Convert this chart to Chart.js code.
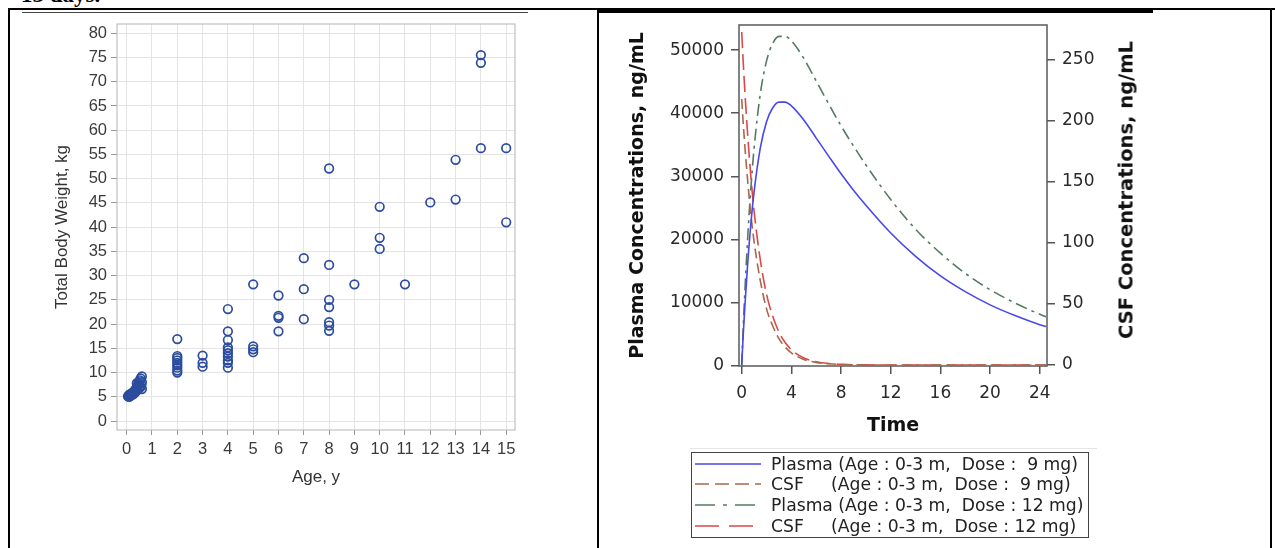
<!DOCTYPE html>
<html><head><meta charset="utf-8">
<script src="https://cdn.jsdelivr.net/npm/chart.js@4.4.0/dist/chart.umd.min.js"></script>
<style>
html,body{margin:0;padding:0;background:#fff;width:1275px;height:548px;overflow:hidden;position:relative;}
#cap{position:absolute;left:21px;top:-18px;line-height:24px;font:bold 23px "Liberation Serif","Times New Roman",serif;color:#000;white-space:nowrap;}
.bl{position:absolute;background:#000;}
#leftc{position:absolute;left:20px;top:4px;}
#rightc{position:absolute;left:600px;top:0px;}
#csfTitle{position:absolute;left:1126px;top:190px;transform:translate(-50%,-50%) rotate(-90deg);font:bold 19.5px "DejaVu Sans",Verdana,sans-serif;white-space:nowrap;color:#111;}
#legend{position:absolute;left:691px;top:452px;width:398px;height:86px;border:1px solid #444;box-sizing:border-box;font:17.2px "DejaVu Sans",Verdana,sans-serif;color:#222;}
.row{position:absolute;left:0;height:20px;width:396px;}
.row svg{position:absolute;left:3px;top:0;}
.row span{position:absolute;left:79px;top:0;line-height:20px;white-space:pre;}
</style></head>
<body>
<div id="cap">13 days.</div>
<div class="bl" style="left:8px;top:8px;width:1267px;height:2px;"></div>
<div class="bl" style="left:599px;top:10px;width:554px;height:3px;"></div>
<div class="bl" style="left:22px;top:12px;width:506px;height:1px;background:#444;"></div>
<div class="bl" style="left:8px;top:8px;width:2px;height:540px;"></div>
<div class="bl" style="left:597px;top:8px;width:2px;height:540px;"></div>
<div class="bl" style="left:1270px;top:8px;width:2px;height:540px;"></div>
<div class="bl" style="left:690px;top:448px;width:407px;height:1px;background:#e4e4e4;"></div>

<canvas id="leftc" width="570" height="530"></canvas>
<canvas id="rightc" width="670" height="460"></canvas>
<div id="csfTitle">CSF Concentrations, ng/mL</div>
<div id="legend"></div>

<script>
// ---------- Left panel: age vs weight ----------
const ageYears = [
  0.05,0.08,0.10,0.12,0.15,0.17,0.20,0.22,0.25,0.27,0.30,0.32,0.35,0.37,0.40,0.40,0.42,0.45,0.47,0.50,0.50,0.52,0.55,0.55,0.58,0.60,0.60,0.60,
  2,2,2,2,2,2,2,2,2,
  3,3,3,
  4,4,4,4,4,4,4,4,4,4,
  5,5,5,5,
  6,6,6,6,
  7,7,7,
  8,8,8,8,8,8,8,
  9,
  10,10,10,
  11,
  12,
  13,13,
  14,14,14,
  15,15
];
const weightKg = [
  5.1,5.3,5.0,5.5,5.2,5.6,5.4,5.8,5.5,6.0,5.7,6.3,6.0,6.6,7.0,7.8,6.4,7.4,8.0,6.8,7.6,8.4,7.0,8.8,7.4,9.2,8.0,6.6,
  16.9,13.4,13.0,12.5,12.0,11.5,11.0,10.4,10.0,
  13.5,12.0,11.2,
  23.1,18.5,16.7,15.2,14.6,14.0,13.3,12.5,12.0,11.0,
  28.2,15.4,14.8,14.2,
  25.9,21.7,21.3,18.5,
  33.6,27.2,21.0,
  52.1,32.2,25.0,23.5,20.4,19.7,18.6,
  28.2,
  44.2,37.8,35.5,
  28.2,
  45.1,
  53.9,45.7,
  75.5,73.9,56.3,
  56.3,41.0
];
const ageTicks = [0,1,2,3,4,5,6,7,8,9,10,11,12,13,14,15];
const weightTicks = [0,5,10,15,20,25,30,35,40,45,50,55,60,65,70,75,80];

// ---------- Right panel: concentration-time ----------
const timeH   = [0,0.125,0.25,0.5,0.75,1,1.5,2,2.5,3,3.5,4,5,6,7,8,9,10,12,14,16,18,20,22,24,24.5];
const plasma9 = [0,4900,9170,16650,22700,27570,34500,38650,40870,41770,41770,41170,38930,36060,33200,30400,27800,25400,21000,17300,14200,11700,9600,7900,6450,6150];
const plasma12= [0,6100,11500,20800,28400,34500,43100,48300,51100,52200,52200,51500,48700,45100,41500,38000,34800,31800,26300,21600,17800,14600,12000,9900,8100,7700];
const csf9    = [218,198,180,149,122,101,69,46,32,21.6,14.7,10,4.6,2.2,1.0,0.5,0.2,0.1,0,0,0,0,0,0,0,0];
const csf12   = [273,248,225,186,153,126,86,58,40,27,18.4,12.5,5.8,2.7,1.2,0.6,0.25,0.1,0,0,0,0,0,0,0,0];
const timeTicks   = [0,4,8,12,16,20,24];
const plasmaTicks = [0,10000,20000,30000,40000,50000];
const csfTicks    = [0,50,100,150,200,250];
const seriesLabels = [
  'Plasma (Age : 0-3 m,  Dose :  9 mg)',
  'CSF     (Age : 0-3 m,  Dose :  9 mg)',
  'Plasma (Age : 0-3 m,  Dose : 12 mg)',
  'CSF     (Age : 0-3 m,  Dose : 12 mg)'
];
const seriesColors = ['#4848ec','#a8694b','#557a62','#dc4848'];
const plotDash   = [[],[10,5],[12,5,3,5],[16,6]];
const legendDash = ['', '14 6', '20 8 4 8', '24 10'];

const framePlugin = {
  id:'frame',
  beforeDatasetsDraw(chart, args, opts){
    const {ctx, chartArea:a} = chart;
    ctx.save(); ctx.strokeStyle = opts.color; ctx.lineWidth = opts.width;
    ctx.strokeRect(a.left, a.top, a.right-a.left, a.bottom-a.top);
    ctx.restore();
  }
};
const setTicks = arr => s => { s.ticks = arr.map(v => ({value:v})); };

const sansL = 'Liberation Sans, Arial, sans-serif';
new Chart(document.getElementById('leftc'), {
  type:'scatter',
  data:{datasets:[{
    data: ageYears.map((a,i)=>({x:a, y:weightKg[i]})),
    pointStyle:'circle', pointRadius:4.3, pointBorderWidth:1.7,
    borderColor:'#2c4d9e', backgroundColor:'rgba(0,0,0,0)', pointHoverRadius:4.3
  }]},
  plugins:[framePlugin],
  options:{
    responsive:false, animation:false, devicePixelRatio:1,
    layout:{padding:{left:0, top:20, right:75, bottom:24}},
    plugins:{legend:{display:false}, tooltip:{enabled:false}, frame:{color:'#b4b4b4', width:1}},
    scales:{
      x:{type:'linear', min:-0.383, max:15.348,
        afterBuildTicks:setTicks(ageTicks), afterFit:s=>{s.height=80;},
        grid:{color:'#e4e4e4', tickColor:'#999', tickLength:5},
        border:{display:false},
        ticks:{padding:5, color:'#3a3a3a', font:{family:sansL, size:16.5}, maxRotation:0, autoSkip:false, callback:v=>String(v)},
        title:{display:true, text:'Age, y', color:'#333', font:{family:sansL, size:17}, padding:{top:0,bottom:22.5}}
      },
      y:{type:'linear', min:-1.857, max:81.92,
        afterBuildTicks:setTicks(weightTicks), afterFit:s=>{s.width=97;},
        grid:{color:'#e4e4e4', tickColor:'#999', tickLength:6},
        border:{display:false},
        ticks:{padding:4, color:'#3a3a3a', font:{family:sansL, size:16.5}, autoSkip:false, callback:v=>String(v)},
        title:{display:true, text:'Total Body Weight, kg', color:'#333', font:{family:sansL, size:17}, padding:{top:31.8,bottom:0}}
      }
    }
  }
});

const sansR = 'DejaVu Sans, Verdana, sans-serif';
const plasmaSets = [plasma9, csf9, plasma12, csf12];
new Chart(document.getElementById('rightc'), {
  type:'line',
  data:{datasets: plasmaSets.map((arr,i)=>({
    label: seriesLabels[i],
    data: timeH.map((t,j)=>({x:t, y:arr[j]})),
    yAxisID: (i%2===0) ? 'y' : 'y1',
    borderColor: seriesColors[i], borderWidth:1.6, borderDash: plotDash[i],
    pointRadius:0, fill:false, cubicInterpolationMode:'monotone'
  }))},
  plugins:[framePlugin],
  options:{
    responsive:false, animation:false, devicePixelRatio:1,
    layout:{padding:{left:0, top:25, right:163, bottom:14}},
    plugins:{legend:{display:false}, tooltip:{enabled:false}, frame:{color:'#5a5a5a', width:1.5}},
    scales:{
      x:{type:'linear', min:-0.217, max:24.58,
        afterBuildTicks:setTicks(timeTicks), afterFit:s=>{s.height=80;},
        grid:{drawOnChartArea:false, tickColor:'#555', tickLength:8, lineWidth:1.5},
        border:{display:false},
        ticks:{padding:9, color:'#2a2a2a', font:{family:sansR, size:17}, maxRotation:0, autoSkip:false, callback:v=>String(v)},
        title:{display:true, text:'Time', color:'#111', font:{family:sansR, size:19, weight:'bold'}, padding:{top:0,bottom:8.9}}
      },
      y:{type:'linear', position:'left', min:-100, max:54000,
        afterBuildTicks:setTicks(plasmaTicks), afterFit:s=>{s.width=139;},
        grid:{drawOnChartArea:false, tickColor:'#555', tickLength:8, lineWidth:1.5},
        border:{display:false},
        ticks:{padding:7, color:'#2a2a2a', font:{family:sansR, size:17}, autoSkip:false, callback:v=>String(v)},
        title:{display:true, text:'Plasma Concentrations, ng/mL', color:'#111', font:{family:sansR, size:19, weight:'bold'}, padding:{top:26.6,bottom:0}}
      },
      y1:{type:'linear', position:'right', min:-0.8, max:278.7,
        afterBuildTicks:setTicks(csfTicks), afterFit:s=>{s.width=60;},
        grid:{drawOnChartArea:false, tickColor:'#555', tickLength:8, lineWidth:1.5},
        border:{display:false},
        ticks:{padding:7, color:'#2a2a2a', font:{family:sansR, size:17}, autoSkip:false, callback:v=>String(v)}
      }
    }
  }
});

// legend (HTML)
const lg = document.getElementById('legend');
const rowTops = [0.5, 20.5, 41.5, 62.5];
seriesLabels.forEach((lab,i)=>{
  const r = document.createElement('div');
  r.className='row'; r.style.top = rowTops[i]+'px';
  r.innerHTML = '<svg width="66" height="20"><line x1="0" y1="10" x2="66" y2="10" stroke="'+seriesColors[i]+'" stroke-width="1.6"'+(legendDash[i]?' stroke-dasharray="'+legendDash[i]+'"':'')+'/></svg><span></span>';
  r.querySelector('span').textContent = lab;
  lg.appendChild(r);
});
</script>
</body></html>
